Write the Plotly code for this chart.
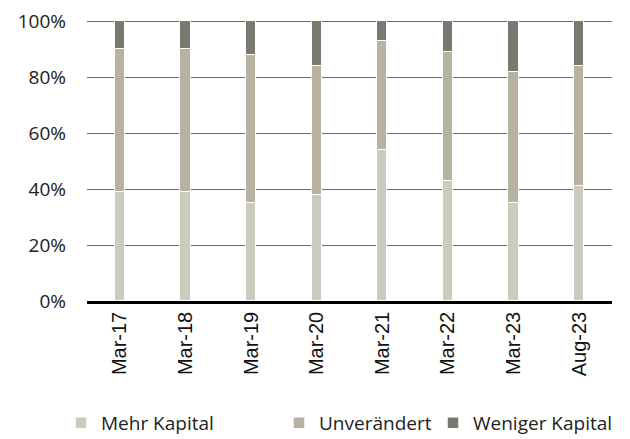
import plotly.graph_objects as go

categories = ["Mar-17", "Mar-18", "Mar-19", "Mar-20", "Mar-21", "Mar-22", "Mar-23", "Aug-23"]
mehr_kapital = [39, 39, 35, 38, 54, 43, 35, 41]
unveraendert = [51, 51, 53, 46, 39, 46, 47, 43]
weniger_kapital = [10, 10, 12, 16, 7, 11, 18, 16]
y_tick_vals = [0, 20, 40, 60, 80, 100]
y_tick_text = ["0%", "20%", "40%", "60%", "80%", "100%"]

series = [
    ("Mehr Kapital", mehr_kapital, "#CDCBBD", "legend"),
    ("Unverändert", unveraendert, "#B8B2A0", "legend2"),
    ("Weniger Kapital", weniger_kapital, "#7B786F", "legend3"),
]

fig = go.Figure()
for name, vals, color, leg in series:
    fig.add_trace(go.Bar(
        x=categories, y=vals, name=name, legend=leg, showlegend=True,
        marker=dict(color=color, line=dict(color="white", width=1.5)),
        width=0.155,
    ))

W, H = 622, 431
legend_font = dict(family="Open Sans, Noto Sans, sans-serif", size=19, color="#222")
common = dict(orientation="h", yanchor="middle", y=1 - 415 / H, xanchor="left",
              xref="container", yref="container", visible=True,
              font=legend_font, bgcolor="rgba(0,0,0,0)", itemwidth=30)

fig.update_layout(
    barmode="stack",
    showlegend=True,
    width=W, height=H,
    margin=dict(l=79, r=18, t=11, b=138, autoexpand=False),
    plot_bgcolor="white", paper_bgcolor="white",
    bargap=0,
    legend=dict(**common, x=53 / W),
    legend2=dict(**common, x=271 / W),
    legend3=dict(**common, x=425 / W),
    xaxis=dict(
        tickangle=-90,
        tickfont=dict(family="Liberation Sans, Arial, sans-serif", size=20, color="#111"),
        showline=True, linecolor="black", linewidth=2.5,
        showgrid=False, ticks="",
    ),
    yaxis=dict(
        range=[0, 100.8],
        tickvals=y_tick_vals, ticktext=y_tick_text,
        tickfont=dict(family="Open Sans, Noto Sans, sans-serif", size=19, color="#222"),
        showgrid=True, gridcolor="#6b6b6b", gridwidth=1,
        zeroline=False, showline=False, ticks="",
        ticklabelstandoff=20, ticklabeloverflow="allow",
    ),
)

fig.write_html("out.html")
